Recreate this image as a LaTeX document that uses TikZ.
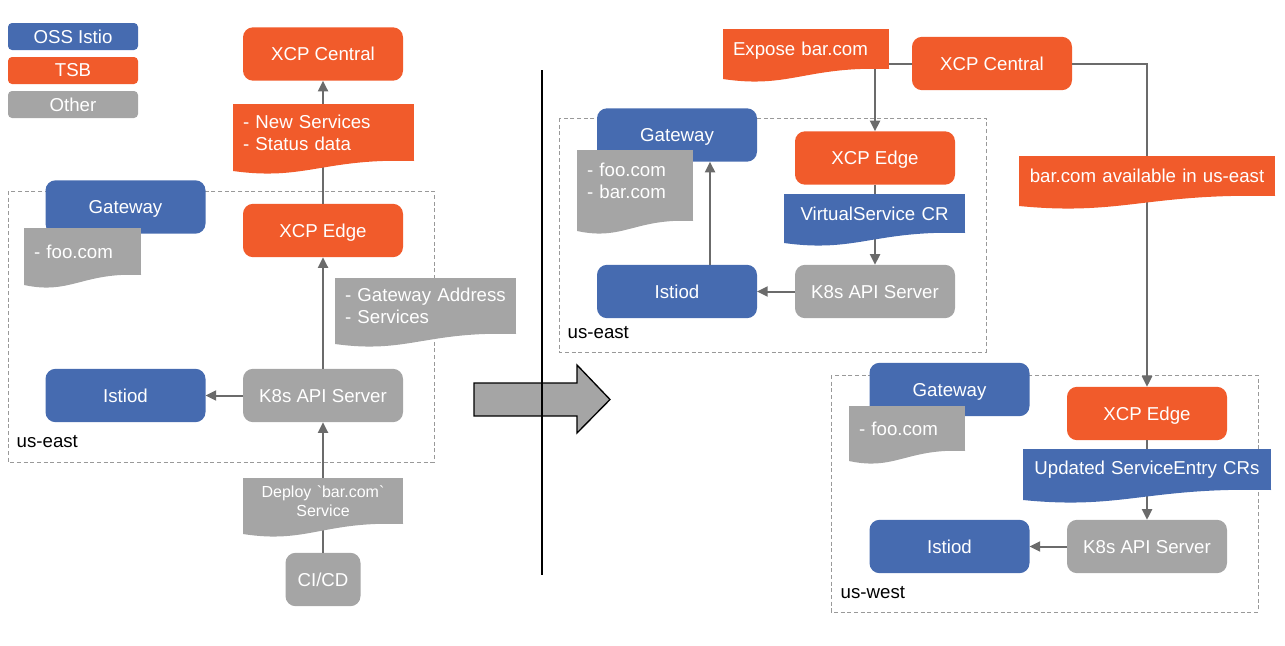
\documentclass[tikz,border=0pt]{standalone}
\usepackage{fontspec}
\setmainfont{Liberation Sans}
\newfontfamily\plainsans{Liberation Sans}
\usetikzlibrary{arrows.meta,calc}

\definecolor{istio}{HTML}{466BB0}
\definecolor{tsb}{HTML}{F15B2B}
\definecolor{other}{HTML}{A5A5A5}
\definecolor{linkgray}{HTML}{6B6B6B}

% wavy bottom under a document node
\newcommand{\wave}[2]{%
  \fill[#2] ([yshift=0.5pt]#1.south west) -- ([yshift=0.5pt]#1.south east) -- (#1.south east)
    .. controls ($(#1.south east)!0.5!(#1.south west)+(0,-3)$) and ($(#1.south east)!0.6!(#1.south west)+(0,20)$)
    .. ($(#1.south west)+(0,10)$) -- cycle;}

\tikzset{
  box/.style={rectangle, rounded corners=7.5pt, minimum width=120pt, minimum height=40pt,
    inner sep=0pt, outer sep=0pt, text=white, text depth=0pt, font=\fontsize{14}{16.5}\selectfont},
  istiobox/.style={box, fill=istio},
  tsbbox/.style={box, fill=tsb},
  otherbox/.style={box, fill=other},
  legendbox/.style={rectangle, rounded corners=3pt, minimum width=97.5pt, minimum height=20.25pt,
    inner sep=0pt, text=white, font=\fontsize{14}{16.5}\selectfont},
  doc/.style={rectangle, fill=#1, inner xsep=7.5pt, inner ysep=0pt, outer sep=0pt,
    align=left, text=white, font=\fontsize{14}{16.5}\selectfont},
  region/.style={draw=black!40, dash pattern=on 3pt off 2pt, line width=0.6pt},
  regionlabel/.style={anchor=west, font=\fontsize{14}{16.5}\selectfont},
  link/.style={draw=linkgray, line width=1.5pt, -{Triangle[length=8pt,width=7.5pt]}},
}

\begin{document}
\begin{tikzpicture}[x=0.75pt, y=-0.75pt]
  \useasboundingbox (0,0) rectangle (1285,646);

  % legend
  \node [legendbox,fill=istio] (lgistio) at (73,36.5) {OSS Istio};
  \node [legendbox,fill=tsb] (lgtsb) at (73,70.5) {TSB};
  \node [legendbox,fill=other] (lgother) at (73,104.5) {Other};

  % before
  \draw [region] (8,191) rectangle (434,462);
  \node [regionlabel] (east1) at (12,442) {us-east};
  \node [tsbbox] (central1) at (323,54) {XCP Central};
  \node [istiobox] (gw1) at (125.5,207) {Gateway};
  \node [tsbbox] (edge1) at (323,230.5) {XCP Edge};
  \node [otherbox] (k8s1) at (323,395.5) {K8s API Server};
  \node [istiobox] (istiod1) at (125.5,395.5) {Istiod};
  \node [otherbox,minimum width=56.25pt] (cicd) at (323,579.5) {CI/CD};
  \path
  (edge1) edge [link] (central1)
  (k8s1) edge [link] (edge1)
  (k8s1) edge [link] (istiod1)
  (cicd) edge [link] (k8s1)
  ;
  \node [doc=tsb,text width=120.75pt,minimum height=42.75pt] (statusdoc) at (323.5,132.5) {- New Services\\- Status data};
  \wave{statusdoc}{tsb}
  \node [doc=other,text width=72.75pt,minimum height=35.25pt] (foodoc1) at (82.5,251.5) {- foo.com};
  \wave{foodoc1}{other}
  \node [doc=other,text width=120.75pt,minimum height=42pt] (addrdoc) at (425.5,306) {- Gateway Address\\- Services};
  \wave{addrdoc}{other}
  \node [doc=other,text width=105pt,minimum height=34.5pt,align=center,font=\plainsans\fontsize{12}{14.25}\selectfont] (deploydoc) at (323,501) {Deploy `bar.com`\\Service};
  \wave{deploydoc}{other}

  % change over
  \fill [other] (474,383) -- (577,383) -- (577,365) -- (610,399.5) -- (577,433) -- (577,416) -- (474,416) -- cycle;
  \draw [line width=1pt] (474,383) -- (577,383) -- (577,365) -- (610,399.5) -- (577,433) -- (577,416) -- (474,416) -- cycle;
  \draw [line width=1.5pt] (542,70) -- (542,575);

  % after
  \draw [region] (559,118) rectangle (986,352);
  \node [regionlabel] (east2) at (563,333) {us-east};
  \draw [region] (831,375) rectangle (1258,612);
  \node [regionlabel] (west) at (836,593) {us-west};
  \node [tsbbox] (central2) at (992,63.5) {XCP Central};
  \node [istiobox] (gw2) at (677,135) {Gateway};
  \node [tsbbox] (edge2) at (875,158) {XCP Edge};
  \node [otherbox] (k8s2) at (875,291.5) {K8s API Server};
  \node [istiobox] (istiod2) at (677,291.5) {Istiod};
  \node [istiobox] (gw3) at (949.5,389.5) {Gateway};
  \node [tsbbox] (edge3) at (1147,413.5) {XCP Edge};
  \node [otherbox] (k8s3) at (1147,546.5) {K8s API Server};
  \node [istiobox] (istiod3) at (949.5,546.5) {Istiod};
  \draw [link] (central2.west) -| (edge2.north);
  \draw [link] (central2.east) -| (edge3.north);
  \draw [link] ([xshift=24.75pt]istiod2.north) -- ([xshift=24.75pt]gw2.south);
  \path
  (edge2) edge [link] (k8s2)
  (k8s2) edge [link] (istiod2)
  (edge3) edge [link] (k8s3)
  (k8s3) edge [link] (istiod3)
  ;
  \node [doc=tsb,text width=109.5pt,minimum height=30pt,text depth=0pt] (exposedoc) at (806,49) {Expose bar.com};
  \wave{exposedoc}{tsb}
  \node [doc=other,text width=72pt,minimum height=53.25pt] (foobardoc) at (635,185.5) {- foo.com\\- bar.com\\[-10pt]\mbox{}};
  \wave{foobardoc}{other}
  \node [doc=istio,text width=120.75pt,minimum height=29.25pt,align=center] (vsdoc) at (874.5,213.5) {VirtualService CR};
  \wave{vsdoc}{istio}
  \node [doc=tsb,text width=177pt,minimum height=30pt,align=center] (availdoc) at (1147,176) {bar.com available in us-east};
  \wave{availdoc}{tsb}
  \node [doc=other,text width=72pt,minimum height=33.75pt] (foodoc2) at (907,428.5) {- foo.com};
  \wave{foodoc2}{other}
  \node [doc=istio,text width=171pt,minimum height=30.75pt,align=center] (sedoc) at (1147,469.5) {Updated ServiceEntry CRs};
  \wave{sedoc}{istio}
\end{tikzpicture}
\end{document}
